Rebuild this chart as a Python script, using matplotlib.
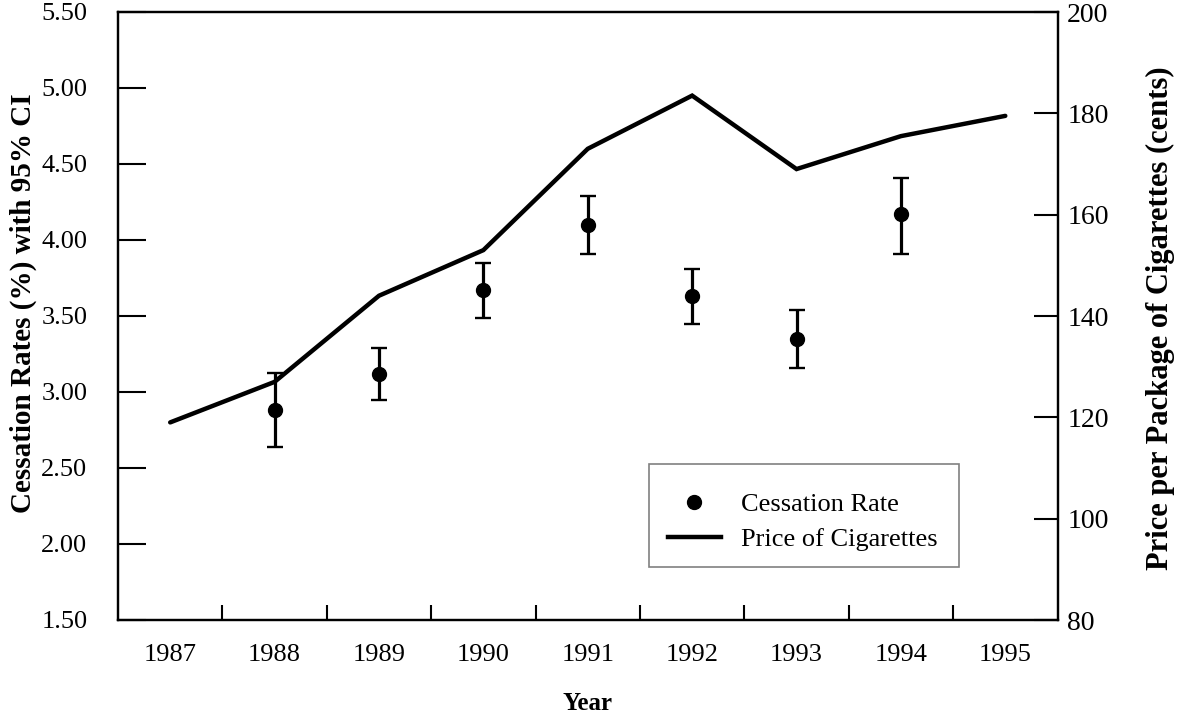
import matplotlib
matplotlib.use("Agg")
import matplotlib.pyplot as plt
from matplotlib.lines import Line2D
from matplotlib.patches import Rectangle

plt.rcParams['font.family'] = ['Liberation Serif', 'DejaVu Serif']

# ---- data ----
price_years = [1987, 1988, 1989, 1990, 1991, 1992, 1993, 1994, 1995]
price_cents = [119, 127, 144, 153, 173, 183.5, 169, 175.5, 179.5]

rate_years = [1988, 1989, 1990, 1991, 1992, 1993, 1994]
rate_pct = [2.88, 3.12, 3.67, 4.10, 3.63, 3.35, 4.17]
ci_low = [2.64, 2.95, 3.49, 3.91, 3.45, 3.16, 3.91]
ci_high = [3.125, 3.29, 3.85, 4.29, 3.81, 3.54, 4.41]

year_labels = [str(y) for y in price_years]
left_ticks = [1.5, 2.0, 2.5, 3.0, 3.5, 4.0, 4.5, 5.0, 5.5]
right_ticks = [80, 100, 120, 140, 160, 180, 200]

# ---- figure ----
W, H = 1181, 714
fig = plt.figure(figsize=(W / 100, H / 100), dpi=100)
L, R, T, B = 118, 1057.5, 12, 620
ax = fig.add_axes([L / W, 1 - B / H, (R - L) / W, (B - T) / H])
ax2 = ax.twinx()

# error bars (left axis)
yerr = [[r - lo for r, lo in zip(rate_pct, ci_low)],
        [hi - r for r, hi in zip(rate_pct, ci_high)]]
ax.errorbar(rate_years, rate_pct, yerr=yerr, fmt='o', color='black',
            markersize=10, elinewidth=2.3, capsize=5.8, capthick=1.7, zorder=3)

# price line (right axis)
ax2.plot(price_years, price_cents, color='black', lw=3.2,
         solid_capstyle='round', solid_joinstyle='miter', zorder=3)

# axes limits & ticks
ax.set_xlim(1986.5, 1995.5)
ax.set_ylim(1.5, 5.5)
ax2.set_ylim(80, 200)

ax.set_xticks([y + 0.5 for y in price_years[:-1]])
ax.set_xticklabels([])
ax.set_xticks(price_years, minor=True)
ax.set_xticklabels(year_labels, minor=True, fontsize=19)
ax.tick_params(axis='x', which='major', direction='in', length=10.5, width=1.5,
               top=False)
ax.tick_params(axis='x', which='minor', length=0, pad=17, top=False)

ax.set_yticks(left_ticks)
ax.set_yticklabels([f"{v:.2f}" for v in left_ticks], fontsize=19)
ax.tick_params(axis='y', direction='in', length=20, width=1.5, pad=22,
               right=False, colors='black')

ax2.set_yticks(right_ticks)
ax2.set_yticklabels([str(v) for v in right_ticks], fontsize=20)
ax2.tick_params(axis='y', direction='in', length=17, width=1.5, pad=7)

for a in (ax, ax2):
    for s in a.spines.values():
        s.set_linewidth(1.6)
        s.set_color('black')

# labels
ax.set_xlabel('Year', fontsize=18, fontweight='bold')
ax.xaxis.set_label_coords((587.5 - L) / (R - L), (B - 703) / (B - T))
ax.xaxis.label.set_va('center')

ax.set_ylabel('Cessation Rates (%) with 95% CI', fontsize=21, fontweight='bold')
ax.yaxis.set_label_coords((23 - L) / (R - L), (B - 303) / (B - T))
ax.yaxis.label.set_va('center')
ax.yaxis.label.set_rotation_mode('default')

ax2.set_ylabel('Price per Package of Cigarettes (cents)', fontsize=22,
               fontweight='bold')
ax2.yaxis.set_label_coords((1160 - L) / (R - L), (B - 318) / (B - T))
ax2.yaxis.label.set_va('center')
ax2.yaxis.label.set_rotation_mode('default')
ax2.yaxis.label.set_rotation(90)

# legend (entries without frame, box drawn separately)
handles = [Line2D([], [], marker='o', color='black', linestyle='none', markersize=10),
           Line2D([], [], color='black', lw=3.2)]
leg = ax2.legend(handles, ['Cessation Rate', 'Price of Cigarettes'],
                 loc='upper left', bbox_to_anchor=(668 / W, 1 - 493 / H),
                 bbox_transform=fig.transFigure, borderaxespad=0,
                 fontsize=19, frameon=False,
                 borderpad=0, handlelength=2.0, handletextpad=0.75,
                 labelspacing=0.42)
fig.patches.append(Rectangle((649 / W, 1 - 567 / H), 310 / W, 103 / H,
                             transform=fig.transFigure, fill=False,
                             edgecolor='#808080', linewidth=1.2))

fig.savefig('out.png', dpi=100)
